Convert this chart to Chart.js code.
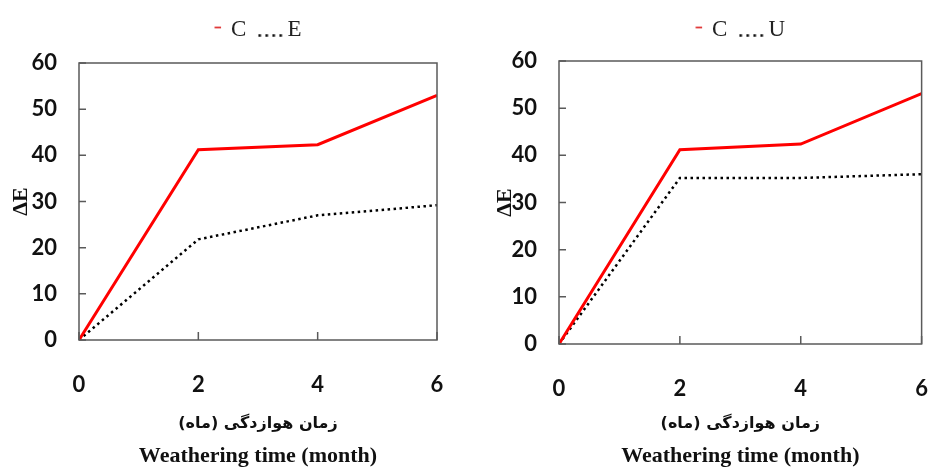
<!DOCTYPE html>
<html><head><meta charset="utf-8">
<script src="https://cdn.jsdelivr.net/npm/chart.js@4"></script>
<style>
html,body{margin:0;padding:0;background:#fff;overflow:hidden;width:930px;height:468px}
.box{position:absolute;top:0;width:465px;height:480px}
</style></head><body>
<div class="box" style="left:0"><canvas id="c1"></canvas></div>
<div class="box" style="left:465px"><canvas id="c2"></canvas></div>
<script>
const months = [0, 2, 4, 6];
const leftRed = [0, 41.2, 42.3, 53.0];
const leftDot = [0, 21.8, 27.0, 29.2];
const rightRed = [0, 41.2, 42.4, 53.1];
const rightDot = [0, 35.2, 35.2, 36.0];
const yTicks = [0, 10, 20, 30, 40, 50, 60];
const xTicks = [0, 2, 4, 6];
const legendLeft = ['C', 'E'];
const legendRight = ['C', 'U'];
const xTitleFa = 'زمان هوازدگی (ماه)';
const xTitleEn = 'Weathering time (month)';
const yTitle = 'ΔE';

// legend sample glyphs
function sample(kind) {
  const c = document.createElement('canvas');
  c.width = 32; c.height = 20;
  const g = c.getContext('2d');
  if (kind === 'red') {
    g.strokeStyle = '#e03a3a'; g.lineWidth = 1.8;
    g.beginPath(); g.moveTo(13.5, 7.5); g.lineTo(20, 7.5); g.stroke();
  } else {
    g.strokeStyle = '#111'; g.lineWidth = 2.6; g.setLineDash([2.6, 4.4]);
    g.beginPath(); g.moveTo(1, 15.5); g.lineTo(28, 15.5); g.stroke();
  }
  return c;
}

const frame = {
  id: 'frame',
  afterDatasetsDraw(chart) {
    const a = chart.chartArea, ctx = chart.ctx;
    const xs = chart.scales.x, ys = chart.scales.y;
    ctx.save();
    ctx.strokeStyle = '#5a5a5a';
    ctx.lineWidth = 1.5;
    ctx.beginPath();
    xTicks.forEach(v => { const p = xs.getPixelForValue(v); ctx.moveTo(p, a.bottom); ctx.lineTo(p, a.bottom - 8); });
    yTicks.forEach(v => { const p = ys.getPixelForValue(v); ctx.moveTo(a.left, p); ctx.lineTo(a.left + 7, p); });
    ctx.stroke();
    ctx.strokeRect(a.left, a.top, a.right - a.left, a.bottom - a.top);
    ctx.restore();
  }
};

function pts(vals) { return months.map((m, i) => ({x: m, y: vals[i]})); }

function make(id, red, dot, labels, yWidth, xHeight, rightPad, gapTop, titlePad) {
  const tickFont = {family: 'Lato, "Open Sans", sans-serif', weight: 'bold', size: 22};
  return new Chart(document.getElementById(id), {
    type: 'line',
    data: {
      datasets: [
        {label: labels[0], data: pts(red), xAxisID: 'x', borderColor: '#ff0000', borderWidth: 3, pointRadius: 0, pointStyle: sample('red'), tension: 0, fill: false},
        {label: labels[1], data: pts(dot), xAxisID: 'x', borderColor: '#000000', borderWidth: 2.5, borderDash: [2.5, 3.5], borderCapStyle: 'butt', pointRadius: 0, pointStyle: sample('dot'), tension: 0, fill: false}
      ]
    },
    options: {
      responsive: true, maintainAspectRatio: false, animation: false,
      layout: {padding: {left: 0, right: rightPad, top: -6, bottom: 0}},
      plugins: {
        tooltip: {enabled: false},
        title: {display: true, text: ' ', fullSize: false, weight: 2000, padding: {top: gapTop, bottom: 0}, font: {size: 10, lineHeight: 0}},
        legend: {
          display: true, fullSize: false, weight: 3000,
          labels: {
            usePointStyle: true, pointStyleWidth: 5,
            color: '#222', padding: 24.5,
            font: {family: '"Liberation Serif", serif', size: 23}
          }
        }
      },
      scales: {
        x: {
          type: 'linear', position: 'bottom', weight: 0, min: 0, max: 6,
          afterBuildTicks(s) { s.ticks = xTicks.map(v => ({value: v})); },
          afterFit(s) { s.height = xHeight; },
          grid: {drawOnChartArea: false, drawTicks: true, tickLength: 30, tickColor: 'rgba(0,0,0,0)'},
          border: {display: false},
          ticks: {color: '#111', font: tickFont, padding: 2, maxRotation: 0},
          title: {display: true, text: xTitleFa, color: '#111', padding: {top: 0, bottom: 7},
                  font: {family: '"DejaVu Sans", sans-serif', weight: 'bold', size: 16}}
        },
        x2: {
          type: 'linear', axis: 'x', position: 'bottom', weight: 1, min: 0, max: 6,
          afterFit(s) { s.height = 40; },
          grid: {display: false},
          border: {display: false},
          ticks: {display: false},
          title: {display: true, text: xTitleEn, color: '#111', padding: {top: 0, bottom: 10},
                  font: {family: '"Liberation Serif", serif', weight: 'bold', size: 22}}
        },
        y: {
          type: 'linear', min: 0, max: 60,
          afterBuildTicks(s) { s.ticks = yTicks.map(v => ({value: v})); },
          afterFit(s) { s.width = yWidth; },
          grid: {drawOnChartArea: false, drawTicks: true, tickLength: 20, tickColor: 'rgba(0,0,0,0)'},
          border: {display: false},
          ticks: {color: '#111', font: tickFont, padding: 2},
          title: {display: true, text: yTitle, color: '#111', padding: {top: titlePad, bottom: 0},
                  font: {family: '"Liberation Serif", serif', weight: 'bold', size: 22}}
        }
      }
    },
    plugins: [frame]
  });
}

make('c1', leftRed, leftDot, legendLeft, 79, 100, 28, 11.5, 8);
make('c2', rightRed, rightDot, legendRight, 94, 96, 7, 9.5, 27);
</script>
</body></html>
